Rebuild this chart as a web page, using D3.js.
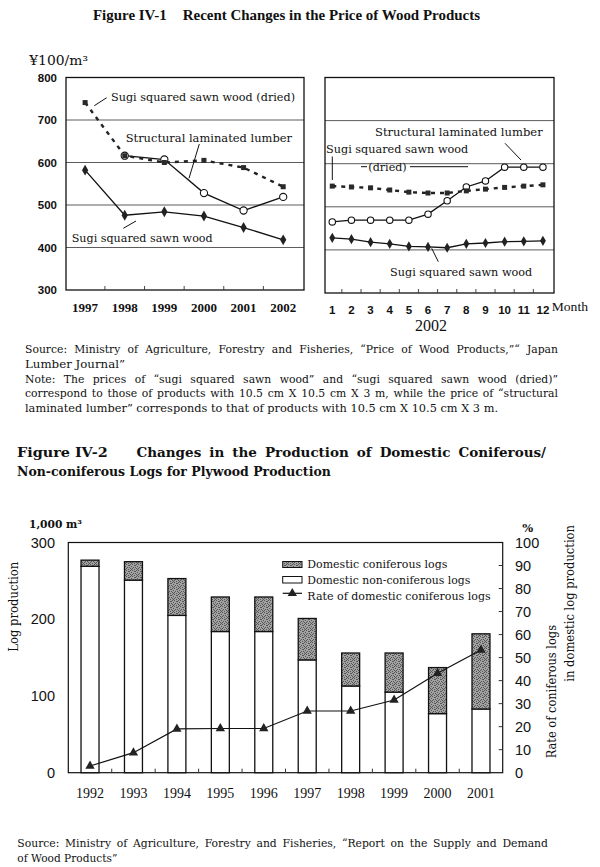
<!DOCTYPE html>
<html><head><meta charset="utf-8">
<script src="https://cdn.jsdelivr.net/npm/d3@7"></script>
<style>body{margin:0;background:#fff}svg{display:block}</style>
</head><body><svg id="c" width="600" height="867"></svg>
<script>
// ---------- DATA ----------
const years1 = ["1997","1998","1999","2000","2001","2002"];
const driedYear = [741, 616, 600, 605, 588, 543];
const laminatedYear = [null, 616, 607, 528, 487, 519];
const sawnYear = [582, 476, 484, 474, 447, 418];
const months = ["1","2","3","4","5","6","7","8","9","10","11","12"];
const driedMonth = [548, 546, 544, 539, 534, 532, 532, 537, 541, 545, 548, 551];
const laminatedMonth = [465, 469, 469, 469, 469, 483, 514, 546, 560, 592, 592, 592];
const sawnMonth = [428, 425, 418, 414, 408, 407, 405, 414, 416, 419, 420, 421];
const priceTicks = [300, 400, 500, 600, 700, 800];

const years2 = ["1992","1993","1994","1995","1996","1997","1998","1999","2000","2001"];
const nonConiferous = [269, 251, 205, 184, 184, 147, 113, 105, 77, 83];
const coniferous = [8, 24, 48, 45, 45, 54, 43, 51, 60, 98];
const coniferousRate = [2.9, 8.7, 19.0, 19.2, 19.2, 26.8, 26.8, 31.6, 43.2, 53.3];
const logTicks = [0, 100, 200, 300];
const rateTicks = [0, 10, 20, 30, 40, 50, 60, 70, 80, 90, 100];

// ---------- HELPERS ----------
const SERIF = "'DejaVu Serif', serif";
const TIMES = "'Liberation Serif', 'Times New Roman', serif";
const SANS = "'Liberation Sans', Arial, sans-serif";
const INK = "#111";
const svg = d3.select("#c");

function txt(x, y, s, o) {
  const t = svg.append("text").attr("x", x).attr("y", y).text(s)
    .attr("font-family", o.ff || SERIF).attr("font-size", o.fs || 11).attr("fill", INK);
  if (o.fw) t.attr("font-weight", o.fw);
  if (o.anchor) t.attr("text-anchor", o.anchor);
  if (o.w) t.attr("textLength", o.w).attr("lengthAdjust", "spacingAndGlyphs");
  if (o.justify) {
    const nat = t.node().getComputedTextLength();
    const n = (s.match(/ /g) || []).length;
    if (nat < o.justify && n) t.attr("word-spacing", (o.justify - nat) / n);
    else t.attr("textLength", o.justify).attr("lengthAdjust", "spacingAndGlyphs");
  }
  if (o.rotate) t.attr("transform", `rotate(-90,${x},${y})`);
  return t;
}
function seg(x1, y1, x2, y2, w) {
  svg.append("line").attr("x1", x1).attr("y1", y1).attr("x2", x2).attr("y2", y2)
    .attr("stroke", INK).attr("stroke-width", w || 1);
}

// speckled pattern for coniferous
const defs = svg.append("defs");
const pat = defs.append("pattern").attr("id", "speck").attr("patternUnits", "userSpaceOnUse")
  .attr("width", 6).attr("height", 6);
pat.append("rect").attr("width", 6).attr("height", 6).attr("fill", "#a2a2a2");
[[0,0],[3,1],[1,3],[4,4],[2,5],[5,2],[5,5],[2,1],[0,4],[4,0],[3,3]].forEach(([a,b]) =>
  pat.append("rect").attr("x", a).attr("y", b).attr("width", 1).attr("height", 1).attr("fill", "#555"));

// ---------- FIGURE IV-1 ----------
txt(93, 20, "Figure IV-1", {ff: TIMES, fs: 15, fw: "bold", w: 73.7});
txt(182.7, 20, "Recent Changes in the Price of Wood Products", {ff: TIMES, fs: 15, fw: "bold", w: 297.3});
txt(29.3, 64.5, "¥100/m³", {ff: SERIF, fs: 12.5, w: 58.7});

const x1 = d3.scaleBand().domain(years1).range([65.3, 303]);
const y1 = d3.scaleLinear().domain([300, 800]).range([290, 77.5]);
const x2 = d3.scaleBand().domain(months).range([322.7, 552.5]);
const y2 = d3.scaleLinear().domain([300, 800]).range([293, 77.5]);

function pricePanel(x, y, frame, cats, dried, lam, sawn, mk) {
  const [fx0, fx1] = frame; const yb = y(300), yt = y(800);
  const g = svg.append("g");
  g.selectAll("line.grid").data(priceTicks.filter(t => t > 300 && t < 800)).join("line")
    .attr("x1", fx0).attr("x2", fx1).attr("y1", d => y(d)).attr("y2", d => y(d))
    .attr("stroke", "#4a4a4a").attr("stroke-width", 0.9);
  g.append("rect").attr("x", fx0).attr("y", yt).attr("width", fx1 - fx0).attr("height", yb - yt)
    .attr("fill", "none").attr("stroke", INK).attr("stroke-width", 1.3);
  g.selectAll("line.bt").data(cats.slice(1)).join("line")
    .attr("x1", d => x(d)).attr("x2", d => x(d)).attr("y1", yb).attr("y2", yb - 4)
    .attr("stroke", "#333").attr("stroke-width", 0.9);
  const cx = c => x(c) + x.bandwidth() / 2;
  const zip = arr => cats.map((c, i) => [c, arr[i]]);
  const line = d3.line().defined(d => d[1] != null).x(d => cx(d[0])).y(d => y(d[1]));
  g.append("path").attr("d", line(zip(sawn))).attr("fill", "none").attr("stroke", INK).attr("stroke-width", 1.3);
  g.append("path").attr("d", line(zip(lam))).attr("fill", "none").attr("stroke", INK).attr("stroke-width", 1.3);
  g.append("path").attr("d", line(zip(dried))).attr("fill", "none").attr("stroke", "#222")
    .attr("stroke-width", 2.4).attr("stroke-dasharray", "4,5");
  g.selectAll("path.dm").data(zip(sawn)).join("path")
    .attr("transform", d => `translate(${cx(d[0])},${y(d[1])})`)
    .attr("d", d3.symbol().type(d3.symbolDiamond).size(mk.diamond)).attr("fill", "#222");
  g.selectAll("circle.cm").data(zip(lam).filter(d => d[1] != null)).join("circle")
    .attr("cx", d => cx(d[0])).attr("cy", d => y(d[1])).attr("r", mk.r)
    .attr("fill", "#fff").attr("stroke", INK).attr("stroke-width", 1.1);
  g.selectAll("rect.sm").data(zip(dried)).join("rect")
    .attr("x", d => cx(d[0]) - mk.sq / 2).attr("y", d => y(d[1]) - mk.sq / 2)
    .attr("width", mk.sq).attr("height", mk.sq).attr("fill", "#2a2a2a");
  return cx;
}

const cxL = pricePanel(x1, y1, [66, 304], years1, driedYear, laminatedYear, sawnYear, {diamond: 34, r: 3.6, sq: 5});
const cxR = pricePanel(x2, y2, [325, 554], months, driedMonth, laminatedMonth, sawnMonth, {diamond: 30, r: 3.2, sq: 5});

priceTicks.forEach(t => txt(57, y1(t) + 4, String(t), {ff: SANS, fs: 11.5, fw: "bold", anchor: "end"}));
years1.forEach(c => txt(cxL(c), 312, c, {ff: TIMES, fs: 13, fw: "bold", anchor: "middle"}));
months.forEach(c => txt(cxR(c), 313.5, c, {ff: SANS, fs: 11.5, fw: "bold", anchor: "middle"}));
txt(551.7, 311, "Month", {ff: TIMES, fs: 13.5, w: 36.3});
txt(431, 331, "2002", {ff: TIMES, fs: 16, anchor: "middle"});

// annotations left panel
txt(111, 100.7, "Sugi squared sawn wood (dried)", {fs: 11.5, w: 184});
seg(94.3, 105.7, 106.7, 97.7);
txt(125.7, 142.3, "Structural laminated lumber", {fs: 11.5, w: 166.3});
seg(199.3, 144, 189, 178.3);
txt(71.7, 242.3, "Sugi squared sawn wood", {fs: 11.5, w: 141});
seg(123.3, 228.3, 136, 221);
// annotations right panel
txt(375, 135.7, "Structural laminated lumber", {fs: 11.5, w: 167.7});
seg(505, 143.3, 521, 160);
txt(326, 153.3, "Sugi squared sawn wood", {fs: 11.5, w: 142.3});
txt(368.3, 170.7, "(dried)", {fs: 11.5, w: 38.4});
seg(361, 166.7, 367, 166.7); seg(410, 166.7, 468, 166.7); seg(332.3, 156.5, 332.3, 180);
txt(390, 275.7, "Sugi squared sawn wood", {fs: 11.5, w: 142.3});
seg(431.7, 248.3, 438.3, 261.7);

// notes
txt(25, 353, "Source: Ministry of Agriculture, Forestry and Fisheries, “Price of Wood Products,”“ Japan", {fs: 10.8, justify: 533});
txt(25, 368, "Lumber Journal”", {fs: 10.8, w: 100});
txt(25, 382.5, "Note: The prices of “sugi squared sawn wood” and “sugi squared sawn wood (dried)”", {fs: 10.8, justify: 533});
txt(25, 397, "correspond to those of products with 10.5 cm X 10.5 cm X 3 m, while the price of “structural", {fs: 10.8, justify: 533});
txt(25, 412, "laminated lumber” corresponds to that of products with 10.5 cm X 10.5 cm X 3 m.", {fs: 10.8, w: 473});

// ---------- FIGURE IV-2 ----------
txt(17, 457, "Figure IV-2", {fs: 13.5, fw: "bold", w: 90.7});
txt(136.5, 457, "Changes in the Production of Domestic Coniferous/", {fs: 13.5, fw: "bold", justify: 409.5});
txt(17, 475.5, "Non-coniferous Logs for Plywood Production", {fs: 13.5, fw: "bold", w: 313.8});

const x3 = d3.scaleBand().domain(years2).range([68.3, 502.7]).paddingInner(0.586).paddingOuter(0.293);
const y3 = d3.scaleLinear().domain([0, 300]).range([772.7, 542.5]);
const yr = d3.scaleLinear().domain([0, 100]).range([772.7, 542.5]);
const step = x3.step();

svg.append("rect").attr("x", 68.3).attr("y", y3(300)).attr("width", 502.7 - 68.3).attr("height", y3(0) - y3(300))
  .attr("fill", "none").attr("stroke", INK).attr("stroke-width", 1.2);
svg.selectAll("line.bt2").data(years2.slice(1)).join("line")
  .attr("x1", d => x3(d) - (step - x3.bandwidth()) / 2).attr("x2", d => x3(d) - (step - x3.bandwidth()) / 2)
  .attr("y1", y3(0)).attr("y2", y3(0) - 4).attr("stroke", "#333");
svg.selectAll("line.rt").data(rateTicks.slice(1, -1)).join("line")
  .attr("x1", 502.7).attr("x2", 498.7).attr("y1", d => yr(d)).attr("y2", d => yr(d)).attr("stroke", "#333");

const bars = years2.map((c, i) => ({c, non: nonConiferous[i], con: coniferous[i]}));
svg.selectAll("rect.non").data(bars).join("rect")
  .attr("x", d => x3(d.c)).attr("width", x3.bandwidth())
  .attr("y", d => y3(d.non)).attr("height", d => y3(0) - y3(d.non))
  .attr("fill", "#fff").attr("stroke", INK).attr("stroke-width", 1.3);
svg.selectAll("rect.con").data(bars).join("rect")
  .attr("x", d => x3(d.c)).attr("width", x3.bandwidth())
  .attr("y", d => y3(d.non + d.con)).attr("height", d => y3(d.non) - y3(d.non + d.con))
  .attr("fill", "url(#speck)").attr("stroke", INK).attr("stroke-width", 1.3);

const cx3 = c => x3(c) + x3.bandwidth() / 2;
svg.append("path").attr("d", d3.line().x((d, i) => cx3(years2[i])).y(d => yr(d))(coniferousRate))
  .attr("fill", "none").attr("stroke", INK).attr("stroke-width", 1.2);
svg.selectAll("path.tri").data(coniferousRate).join("path")
  .attr("transform", (d, i) => `translate(${cx3(years2[i])},${yr(d)})`)
  .attr("d", d3.symbol().type(d3.symbolTriangle).size(38)).attr("fill", "#222");

logTicks.forEach(t => txt(55, y3(t) + 5, String(t), {ff: SANS, fs: 14.5, anchor: "end"}));
rateTicks.forEach(t => txt(515, yr(t) + 5.3, String(t), {ff: SANS, fs: 14.5}));
years2.forEach(c => txt(cx3(c), 798, c, {ff: TIMES, fs: 14, anchor: "middle"}));

txt(29, 528, "1,000 m³", {fs: 11.5, fw: "bold", w: 53});
txt(527.7, 532, "%", {fs: 11.5, fw: "bold", anchor: "middle"});
txt(18.5, 651.7, "Log production", {fs: 12.5, rotate: true, w: 90});
txt(556, 758.3, "Rate of coniferous logs", {fs: 12.5, rotate: true, w: 133.3});
txt(574.5, 681.7, "in domestic log production", {fs: 12.5, rotate: true, w: 156.7});

// legend
svg.append("rect").attr("x", 282.7).attr("y", 561.5).attr("width", 19.3).attr("height", 6)
  .attr("fill", "url(#speck)").attr("stroke", INK).attr("stroke-width", 1);
svg.append("rect").attr("x", 282.7).attr("y", 576.5).attr("width", 19.3).attr("height", 6.5)
  .attr("fill", "#fff").attr("stroke", INK).attr("stroke-width", 1);
seg(282.7, 593.3, 302, 593.3, 1.2);
svg.append("path").attr("transform", "translate(292.3,593.3)")
  .attr("d", d3.symbol().type(d3.symbolTriangle).size(38)).attr("fill", "#222");
txt(307.3, 568, "Domestic coniferous logs", {fs: 11.5, w: 140});
txt(307.3, 584, "Domestic non-coniferous logs", {fs: 11.5, w: 163});
txt(307.3, 600, "Rate of domestic coniferous logs", {fs: 11.5, w: 183.4});

txt(17.3, 846.5, "Source: Ministry of Agriculture, Forestry and Fisheries, “Report on the Supply and Demand", {fs: 10.8, justify: 530.7});
txt(17.3, 862, "of Wood Products”", {fs: 10.8, w: 100});
</script></body></html>
